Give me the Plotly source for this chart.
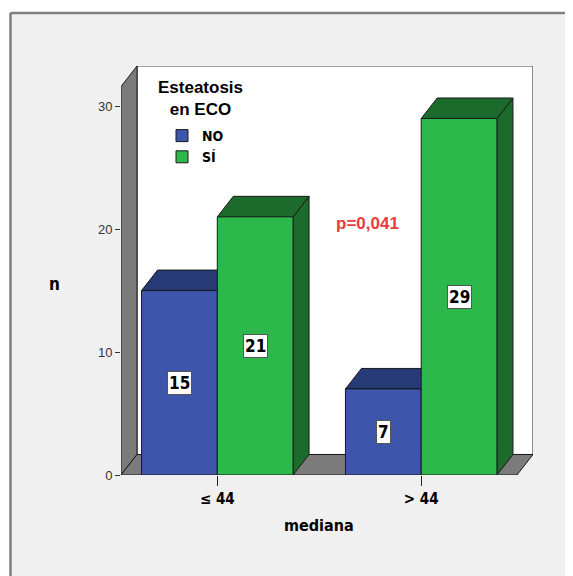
import plotly.graph_objects as go

# ---- data ----
categories = ["≤ 44", "> 44"]
series_names = ["NO", "SÍ"]
values_no = [15, 7]
values_si = [21, 29]
y_ticks = [0, 10, 20, 30]
p_text = "p=0,041"

# ---- style / geometry ----
OFF = 8                         # page offset of the figure (body margin)
W, H = 565, 568
ML, MR, MT, MB = 113, 40, 58, 101
PW, PH = W - ML - MR, H - MT - MB
X_RANGE = [-0.4723, 1.5483]
Y_RANGE = [0, 33.27]
DX, DY = 0.0785, 1.668          # depth offset (3D look)
BARGAP = 0.257
BW = (1 - BARGAP) / 2           # width of one bar in category units

front_cols = ["#3d56ab", "#2db84b"]
dark_cols = ["#263a75", "#1d6b2c"]
wall_col = "#7b7b7b"
edge = "#1a1a1a"
COND = "DejaVu Sans Condensed, Liberation Sans Narrow, Arial Narrow, sans-serif"
ARIAL = "Liberation Sans, Arial, sans-serif"


def px(xp):
    """page x pixel -> paper coordinate"""
    return (xp - OFF - ML) / PW


def py(yp):
    """page y pixel -> paper coordinate"""
    return (H - MB - (yp - OFF)) / PH


fig = go.Figure()
series = [values_no, values_si]
xs = list(range(len(categories)))

for i, (name, vals) in enumerate(zip(series_names, series)):
    fig.add_trace(go.Bar(
        x=xs, y=vals, name=name,
        marker=dict(color=front_cols[i], line=dict(color=edge, width=1)),
        hoverinfo="skip",
    ))

shapes = []
x0, x1 = X_RANGE
xf1 = x1 - DX
ytop_back = Y_RANGE[1]
# back wall
shapes.append(dict(type="path", xref="x", yref="y", layer="below",
                   path=f"M{x0+DX},{DY} L{x1},{DY} L{x1},{ytop_back} L{x0+DX},{ytop_back} Z",
                   fillcolor="white", line=dict(color="#444", width=1.2)))
# left wall
shapes.append(dict(type="path", xref="x", yref="y", layer="below",
                   path=f"M{x0},0 L{x0+DX},{DY} L{x0+DX},{ytop_back} L{x0},{ytop_back-DY} Z",
                   fillcolor=wall_col, line=dict(color=edge, width=1)))
# floor
shapes.append(dict(type="path", xref="x", yref="y", layer="below",
                   path=f"M{x0},0 L{xf1},0 L{x1},{DY} L{x0+DX},{DY} Z",
                   fillcolor=wall_col, line=dict(color=edge, width=1)))

annotations = []
for c in xs:
    for i, vals in enumerate(series):
        v = vals[c]
        xc = c + (i - 0.5) * BW
        l, r = xc - BW / 2, xc + BW / 2
        # side face
        shapes.append(dict(type="path", xref="x", yref="y", layer="below",
                           path=f"M{r},0 L{r},{v} L{r+DX},{v+DY} L{r+DX},{DY} Z",
                           fillcolor=dark_cols[i], line=dict(color=edge, width=1)))
        # top face
        shapes.append(dict(type="path", xref="x", yref="y", layer="below",
                           path=f"M{l},{v} L{r},{v} L{r+DX},{v+DY} L{l+DX},{v+DY} Z",
                           fillcolor=dark_cols[i], line=dict(color=edge, width=1)))
        annotations.append(dict(x=xc, y=v / 2, xref="x", yref="y", text=f"<b>{v}</b>",
                                showarrow=False, bgcolor="white", bordercolor="#555",
                                borderwidth=1, borderpad=1,
                                xanchor="center", yanchor="middle",
                                font=dict(family=COND, size=17, color="black")))

# outer frame (white outside, grey border)
frame_y = py(13)
frame_x = px(10.5)
shapes.append(dict(type="rect", xref="paper", yref="paper", layer="above",
                   x0=-1, x1=2, y0=py(12), y1=2,
                   fillcolor="white", line=dict(width=0)))
shapes.append(dict(type="rect", xref="paper", yref="paper", layer="above",
                   x0=-1, x1=px(9), y0=-1, y1=2,
                   fillcolor="white", line=dict(width=0)))
shapes.append(dict(type="line", xref="paper", yref="paper", layer="above",
                   x0=frame_x, x1=2, y0=frame_y, y1=frame_y,
                   line=dict(color="#808080", width=2.5)))
shapes.append(dict(type="line", xref="paper", yref="paper", layer="above",
                   x0=frame_x, x1=frame_x, y0=-1, y1=frame_y,
                   line=dict(color="#808080", width=2.5)))

annotations.append(dict(x=px(200), y=py(98), xref="paper", yref="paper",
                        xanchor="center", yanchor="middle",
                        text="<b>Esteatosis<br>en ECO</b>", showarrow=False, align="center",
                        font=dict(family=ARIAL, size=17, color="black")))
annotations.append(dict(x=px(367), y=py(223), xref="paper", yref="paper", text=f"<b>{p_text}</b>",
                        xanchor="center", yanchor="middle",
                        showarrow=False, font=dict(family=ARIAL, size=17, color="#ee3a3a")))
annotations.append(dict(x=px(54), y=py(284), xref="paper", yref="paper", text="<b>n</b>",
                        xanchor="center", yanchor="middle",
                        showarrow=False, font=dict(family=COND, size=17, color="black")))
annotations.append(dict(x=0.5, y=py(525), xref="x", yref="paper", text="<b>mediana</b>",
                        xanchor="center", yanchor="middle",
                        showarrow=False, font=dict(family=COND, size=16, color="black")))

fig.update_layout(
    width=W, height=H,
    margin=dict(l=ML, r=MR, t=MT, b=MB, pad=0),
    paper_bgcolor="#f0f0f0", plot_bgcolor="#f0f0f0",
    barmode="group", bargap=BARGAP, bargroupgap=0,
    showlegend=True,
    legend=dict(x=px(162), y=py(120), xanchor="left", yanchor="top",
                bgcolor="rgba(0,0,0,0)", traceorder="normal",
                font=dict(family=COND, size=14, color="black", weight="bold")),
    shapes=shapes, annotations=annotations,
    xaxis=dict(range=X_RANGE, tickvals=xs, ticktext=[f"<b>{c}</b>" for c in categories],
               ticks="outside", ticklen=10, tickcolor="#222", tickwidth=1,
               showgrid=False, zeroline=False, showline=False,
               tickfont=dict(family=COND, size=15, color="black"), fixedrange=True),
    yaxis=dict(range=Y_RANGE, tickvals=y_ticks, ticks="outside", ticklen=5,
               tickcolor="#333", showgrid=False, zeroline=False, showline=False,
               tickfont=dict(family=ARIAL, size=13, color="#333"), fixedrange=True),
)

fig.write_html("out.html")
